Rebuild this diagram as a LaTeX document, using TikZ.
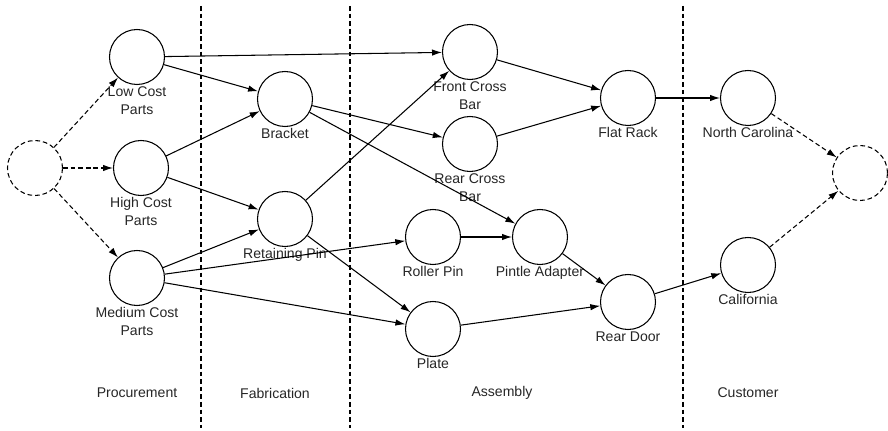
\documentclass[tikz,border=0pt]{standalone}
\usepackage{fontspec}
\setsansfont{Liberation Sans}
\usetikzlibrary{arrows.meta, positioning}

\begin{document}
\begin{tikzpicture}[x=0.03cm, y=-0.03cm,
    stage/.style={
        circle,
        draw,
        line width=0.9pt,
        minimum size=1.65cm,
        inner sep=0pt
    },
    endpoint/.style={
        stage,
        dash pattern=on 4pt off 2.5pt
    },
    stagelabel/.style={
        font=\sffamily\fontsize{12}{15.3}\selectfont,
        text=black!85,
        align=center,
        inner sep=1pt
    },
    phasetext/.style={
        font=\sffamily\fontsize{12}{15.3}\selectfont,
        text=black!85
    },
    flow/.style={
        -{Latex[length=8.5pt, width=5.5pt]},
        line width=0.9pt
    },
    supply/.style={
        flow,
        dash pattern=on 4pt off 2.5pt
    },
    divider/.style={
        line width=0.9pt,
        dash pattern=on 4pt off 2.5pt
    }
]
\useasboundingbox (0,0) rectangle (888,431);

% Phase dividers
\draw[divider] (201,6) -- (201,428);
\draw[divider] (350,6) -- (350,428);
\draw[divider] (683,6) -- (683,428);

% Phase names
\node[phasetext] (procurement) at (137,393) {Procurement};
\node[phasetext] (fabrication) at (275,393) {Fabrication};
\node[phasetext] (assembly) at (502,393) {Assembly};
\node[phasetext] (customer) at (748,393) {Customer};

% Source and sink
\node[endpoint] (src) at (35,168) {};
\node[endpoint] (sink) at (860,173) {};

% Procurement
\node[stage, label={[stagelabel]below:{Low Cost\\Parts}}] (low) at (137,57) {};
\node[stage, label={[stagelabel]below:{High Cost\\Parts}}] (high) at (141,168) {};
\node[stage, label={[stagelabel]below:{Medium Cost\\Parts}}] (medium) at (137,278) {};

% Fabrication
\node[stage, label={[stagelabel]below:Bracket}] (bracket) at (285,99) {};
\node[stage, label={[stagelabel]below:Retaining Pin}] (retpin) at (285,219) {};

% Assembly
\node[stage, label={[stagelabel]below:{Front Cross\\Bar}}] (frontbar) at (470,52) {};
\node[stage, label={[stagelabel]below:{Rear Cross\\Bar}}] (rearbar) at (470,144) {};
\node[stage, label={[stagelabel]below:Roller Pin}] (rollerpin) at (433,237) {};
\node[stage, label={[stagelabel]below:Pintle Adapter}] (pintle) at (540,237) {};
\node[stage, label={[stagelabel]below:Plate}] (plate) at (433,329) {};
\node[stage, label={[stagelabel]below:Flat Rack}] (flatrack) at (628,98) {};
\node[stage, label={[stagelabel]below:Rear Door}] (reardoor) at (628,302) {};

% Customer
\node[stage, label={[stagelabel]below:North Carolina}] (northcar) at (748,98) {};
\node[stage, label={[stagelabel]below:California}] (calif) at (748,265) {};

% Supply and demand links
\draw[supply] (src) -- (low);
\draw[supply] (src) -- (high);
\draw[supply] (src) -- (medium);
\draw[supply] (northcar) -- (sink);
\draw[supply] (calif) -- (sink);

% Material flow
\draw[flow] (low) -- (frontbar);
\draw[flow] (low) -- (bracket);
\draw[flow] (high) -- (bracket);
\draw[flow] (high) -- (retpin);
\draw[flow] (medium) -- (retpin);
\draw[flow] (medium) -- (rollerpin);
\draw[flow] (medium) -- (plate);
\draw[flow] (bracket) -- (rearbar);
\draw[flow] (bracket) -- (pintle);
\draw[flow] (retpin) -- (frontbar);
\draw[flow] (retpin) -- (plate);
\draw[flow] (frontbar) -- (flatrack);
\draw[flow] (rearbar) -- (flatrack);
\draw[flow] (rollerpin) -- (pintle);
\draw[flow] (pintle) -- (reardoor);
\draw[flow] (plate) -- (reardoor);
\draw[flow] (flatrack) -- (northcar);
\draw[flow] (reardoor) -- (calif);

\end{tikzpicture}
\end{document}
